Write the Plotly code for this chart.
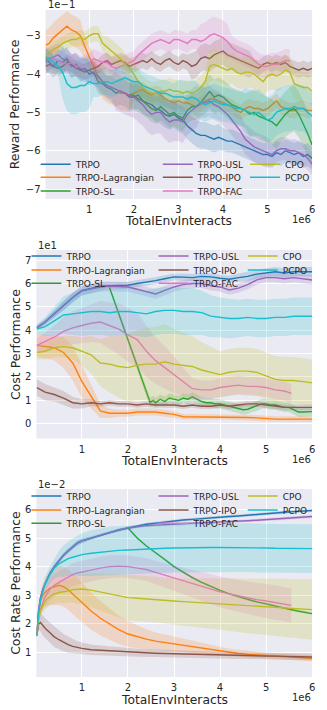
import plotly.graph_objects as go

W, H = 327, 710
NAMES = ["TRPO", "TRPO-Lagrangian", "TRPO-SL", "TRPO-USL", "TRPO-IPO", "TRPO-FAC", "CPO", "PCPO"]
COLORS = ["#1f77b4", "#ff7f0e", "#2ca02c", "#9467bd", "#8c564b", "#e377c2", "#bcbd22", "#17becf"]
X_TICKS = [1, 2, 3, 4, 5, 6]
X_TICK_TEXT = ["1", "2", "3", "4", "5", "6"]

# ---------------- Panel 1: Reward Performance (units of 1e-1) ----------------
X1 = [0.02] + [round(0.1 * i, 1) for i in range(1, 61)]
X1_SL = [round(0.1 * i, 1) for i in range(19, 61)]
X1_FAC = [0.02] + [round(0.1 * i, 1) for i in range(1, 56)]

R_TRPO = [-3.6, -3.7, -3.8, -3.65, -3.7, -3.6, -3.8, -3.75, -3.9, -3.85, -4.0, -3.95, -4.2, -4.25, -4.35, -4.4,
          -4.5, -4.45, -4.5, -4.6, -4.6, -4.55, -4.7, -4.75, -4.8, -4.9, -4.95, -5.05, -5.1, -5.05, -5.15, -5.2,
          -5.35, -5.45, -5.55, -5.6, -5.6, -5.65, -5.7, -5.65, -5.7, -5.75, -5.75, -5.8, -5.85, -5.9, -5.95, -6.0,
          -6.05, -6.1, -6.1, -6.15, -6.05, -6.1, -6.0, -6.05, -6.1, -6.05, -6.15, -6.1, -6.2]
R_TRPO_SD = [0.3] * 15 + [0.35] * 25 + [0.3] * 21
R_LAG = [-3.25, -3.2, -3.05, -2.95, -2.85, -2.75, -2.85, -2.9, -3.0, -3.3, -3.55, -3.8, -4.1, -4.2, -4.3, -4.35,
         -4.4, -4.5, -4.5, -4.55, -4.5, -4.45, -4.4, -4.5, -4.55, -4.5, -4.55, -4.65, -4.7, -4.75, -4.7, -4.75,
         -4.75, -4.8, -4.85, -4.8, -4.7, -4.65, -4.65, -4.7, -4.75, -4.8, -4.85, -4.95, -5.0, -4.9, -4.85, -4.9,
         -4.9, -4.95, -4.9, -4.8, -4.7, -4.85, -4.9, -4.95, -4.95, -4.9, -4.9, -4.95, -4.95]
R_LAG_SD = [0.4] * 9 + [0.3] * 4 + [0.45] * 7 + [0.2] * 41
R_SL = [-4.55, -4.55, -4.65, -4.7, -4.8, -4.9, -4.95, -4.85, -4.95, -5.05, -5.0, -5.1, -5.15, -4.95, -4.85, -4.85,
        -4.75, -4.6, -4.45, -4.6, -4.55, -4.6, -4.7, -4.8, -4.85, -4.9, -4.95, -5.05, -5.0, -5.1, -5.15, -5.2,
        -5.25, -5.35, -5.2, -5.05, -4.95, -4.9, -5.05, -5.3, -5.55, -5.85]
R_SL_SD = [0.35] * 17 + [0.45] * 10 + [0.6] * 15
R_USL = [-3.7, -3.6, -3.55, -3.5, -3.6, -3.65, -3.8, -3.75, -3.85, -3.9, -3.9, -4.0, -4.05, -4.2, -4.3, -4.35,
         -4.4, -4.45, -4.5, -4.55, -4.6, -4.7, -4.8, -4.95, -5.05, -5.0, -5.0, -5.15, -5.25, -5.2, -5.2, -5.25,
         -5.05, -4.95, -4.85, -4.75, -4.75, -4.7, -4.8, -4.85, -4.95, -5.05, -5.2, -5.35, -5.5, -5.7, -5.8, -5.9,
         -5.95, -6.0, -6.05, -6.1, -6.0, -5.95, -5.95, -6.0, -6.0, -6.05, -6.1, -6.2, -6.35]
R_USL_SD = [0.3] * 16 + [0.55] * 19 + [0.4] * 16 + [0.3] * 10
R_IPO = [-3.8, -3.75, -3.8, -3.85, -3.8, -3.7, -3.75, -3.85, -3.9, -3.95, -3.9, -3.85, -3.8, -3.7, -3.65, -3.75,
         -3.7, -3.65, -3.7, -3.8, -3.75, -3.7, -3.65, -3.7, -3.6, -3.7, -3.75, -3.65, -3.6, -3.7, -3.75, -3.65,
         -3.7, -3.8, -3.75, -3.6, -3.55, -3.6, -3.5, -3.45, -3.4, -3.5, -3.55, -3.6, -3.65, -3.7, -3.75, -3.8,
         -3.85, -3.75, -3.7, -3.75, -3.7, -3.75, -3.7, -3.8, -3.85, -3.9, -3.85, -3.9, -3.85]
R_IPO_SD = [0.2] * 33 + [0.35] * 14 + [0.2] * 14
R_FAC = [-3.55, -3.6, -3.6, -3.65, -3.7, -3.75, -3.7, -3.8, -3.8, -3.75, -3.7, -3.6, -3.65, -3.7, -3.7, -3.8,
         -3.85, -3.8, -3.75, -3.7, -3.65, -3.5, -3.4, -3.3, -3.2, -3.15, -3.1, -3.15, -3.2, -3.1, -3.1, -3.15,
         -3.2, -3.1, -3.1, -3.15, -3.1, -3.0, -2.95, -3.0, -3.05, -3.15, -3.3, -3.4, -3.45, -3.5, -3.55, -3.65,
         -3.75, -3.8, -3.8, -3.75, -3.75, -3.7, -3.65, -3.65]
R_FAC_SD = [0.25] * 35 + [0.45] * 7 + [0.3] * 14
R_CPO = [-3.5, -3.45, -3.35, -3.3, -3.2, -3.15, -3.1, -3.1, -3.05, -3.1, -3.0, -2.95, -2.95, -3.2, -3.3, -3.4,
         -3.5, -3.6, -3.75, -3.85, -4.0, -4.2, -4.35, -4.45, -4.5, -4.5, -4.45, -4.45, -4.4, -4.45, -4.45, -4.5,
         -4.45, -4.5, -4.45, -4.35, -4.2, -3.8, -3.75, -3.8, -3.85, -3.9, -3.85, -3.95, -4.0, -3.95, -3.95, -4.0,
         -4.1, -4.2, -4.05, -4.0, -4.05, -4.0, -3.9, -3.95, -4.25, -4.3, -4.35, -4.35, -4.45]
R_CPO_SD = [0.2] * 14 + [0.3] * 23 + [0.4] * 24
R_PCPO = [-3.55, -3.6, -3.7, -3.8, -3.95, -4.25, -4.35, -4.35, -4.3, -4.3, -4.2, -4.25, -4.25, -4.2, -4.2, -4.25,
          -4.2, -4.15, -4.1, -4.15, -4.2, -4.2, -4.3, -4.35, -4.4, -4.45, -4.5, -4.5, -4.55, -4.6, -4.6, -4.6,
          -4.65, -4.6, -4.65, -4.75, -4.8, -4.75, -4.7, -4.75, -4.8, -4.8, -4.85, -4.9, -4.9, -4.95, -5.0, -5.05,
          -5.0, -5.1, -5.2, -5.15, -5.0, -4.95, -4.9, -4.9, -4.85, -4.9, -4.9, -5.0, -5.1]
R_PCPO_SD = [0.2] * 4 + [0.7] * 7 + [0.35] * 19 + [0.45] * 15 + [0.6] * 16

# ---------------- Panel 2: Cost Performance (units of 1e1) ----------------
X2 = [0.02] + [round(0.2 * i, 1) for i in range(1, 31)]
X2_SL = [1.6, 2.48, 2.55, 2.6] + [round(0.1 * i, 1) for i in range(27, 61)]
X2_FAC = [0.02] + [round(0.2 * i, 1) for i in range(1, 28)] + [5.55]

C_TRPO = [4.1, 4.35, 4.7, 5.05, 5.4, 5.7, 5.8, 5.88, 5.9, 5.9, 5.92, 6.0, 6.05, 6.12, 6.2, 6.28, 6.27, 6.25, 6.3,
          6.28, 6.22, 6.18, 6.25, 6.3, 6.4, 6.45, 6.5, 6.45, 6.5, 6.5, 6.5]
C_TRPO_SD = [0.1, 0.12, 0.15, 0.2, 0.2, 0.2, 0.2, 0.18, 0.15, 0.15, 0.15, 0.15, 0.15, 0.15, 0.15, 0.15, 0.15,
             0.15, 0.15, 0.15, 0.15, 0.15, 0.18, 0.2, 0.2, 0.2, 0.2, 0.2, 0.2, 0.2, 0.2]
C_LAG = [3.35, 3.3, 3.25, 3.05, 2.6, 1.8, 1.15, 0.55, 0.45, 0.45, 0.45, 0.5, 0.5, 0.5, 0.45, 0.4, 0.3, 0.3, 0.3,
         0.3, 0.3, 0.28, 0.28, 0.27, 0.25, 0.22, 0.2, 0.2, 0.2, 0.2, 0.2]
C_LAG_SD = [0.5, 0.5, 0.55, 0.65, 0.75, 0.7, 0.5, 0.3, 0.2, 0.15, 0.15, 0.15, 0.15, 0.15, 0.15, 0.15, 0.12,
            0.12, 0.12, 0.12, 0.12, 0.12, 0.12, 0.12, 0.12, 0.12, 0.12, 0.12, 0.12, 0.12, 0.12]
C_SL = [5.82, 0.92, 1.0, 0.9, 1.05, 0.95, 1.1, 1.05, 1.0, 1.1, 1.05, 1.15, 1.05, 0.95, 0.9, 0.9, 0.85, 0.85, 0.8,
        0.75, 0.7, 0.65, 0.6, 0.62, 0.7, 0.75, 0.85, 0.85, 0.8, 0.8, 0.75, 0.7, 0.7, 0.6, 0.5, 0.5, 0.5, 0.52]
C_SL_SD = [0.1] + [0.2] * 37
C_USL = [4.1, 4.35, 4.7, 5.05, 5.4, 5.68, 5.78, 5.85, 5.88, 5.85, 5.85, 5.75, 5.65, 5.55, 5.7, 5.85, 5.95, 6.0,
         6.0, 5.9, 5.85, 5.72, 5.8, 5.95, 6.15, 6.25, 6.25, 6.2, 6.25, 6.2, 6.15]
C_USL_SD = [0.1, 0.12, 0.15, 0.2, 0.2, 0.2, 0.2, 0.2, 0.2, 0.2, 0.2, 0.2, 0.2, 0.2, 0.2, 0.2, 0.2, 0.2, 0.2,
            0.2, 0.2, 0.2, 0.2, 0.2, 0.2, 0.2, 0.2, 0.2, 0.2, 0.2, 0.2]
C_IPO = [1.55, 1.35, 1.25, 1.1, 0.9, 0.85, 0.9, 0.85, 0.9, 0.85, 0.85, 0.8, 0.85, 0.8, 0.8, 0.8, 0.75, 0.8, 0.75,
         0.75, 0.8, 0.75, 0.8, 0.85, 0.85, 0.8, 0.75, 0.7, 0.7, 0.7, 0.7]
C_IPO_SD = [0.35, 0.35, 0.3, 0.3, 0.25, 0.2, 0.15, 0.12, 0.12, 0.12, 0.12, 0.12, 0.12, 0.12, 0.12, 0.12, 0.12,
            0.12, 0.12, 0.12, 0.12, 0.12, 0.12, 0.12, 0.12, 0.12, 0.12, 0.12, 0.12, 0.12, 0.12]
C_FAC = [3.35, 3.5, 3.7, 3.95, 4.1, 4.2, 4.3, 4.35, 4.2, 4.05, 3.8, 3.6, 3.1, 2.7, 2.4, 2.1, 1.8, 1.5, 1.45, 1.45,
         1.55, 1.6, 1.65, 1.6, 1.6, 1.55, 1.45, 1.4, 1.3]
C_FAC_SD = [0.3, 0.4, 0.5, 0.6, 0.7, 0.75, 0.8, 0.9, 1.0, 1.1, 1.15, 1.15, 1.1, 1.0, 0.9, 0.8, 0.6, 0.45, 0.4,
            0.4, 0.4, 0.4, 0.4, 0.4, 0.4, 0.4, 0.4, 0.4, 0.4]
C_CPO = [3.05, 3.1, 3.25, 3.3, 3.25, 3.1, 2.95, 2.6, 2.55, 2.45, 2.4, 2.5, 2.55, 2.55, 2.65, 2.55, 2.5, 2.45, 2.3,
         2.2, 2.1, 2.2, 2.25, 2.25, 2.2, 2.05, 1.9, 1.85, 1.85, 1.8, 1.75]
C_CPO_SD = [0.3, 0.35, 0.4, 0.45, 0.5, 0.6, 0.8, 1.0, 1.2, 1.35, 1.45, 1.5, 1.55, 1.6, 1.6, 1.5, 1.4, 1.3, 1.2,
            1.1, 1.0, 1.0, 1.0, 1.0, 1.0, 1.0, 1.0, 1.0, 1.0, 1.0, 1.0]
C_PCPO = [4.05, 4.15, 4.4, 4.65, 4.7, 4.75, 4.8, 4.8, 4.75, 4.8, 4.8, 4.75, 4.7, 4.8, 4.85, 4.85, 4.8, 4.8, 4.75,
          4.6, 4.55, 4.5, 4.5, 4.55, 4.5, 4.5, 4.55, 4.55, 4.6, 4.6, 4.6]
C_PCPO_SD = [0.2, 0.4, 0.6, 0.8, 0.9, 1.0, 1.0, 1.0, 1.0, 1.0, 1.0, 1.0, 1.0, 1.0, 1.0, 1.0, 1.0, 1.0, 0.95,
             0.9, 0.85, 0.85, 0.8, 0.8, 0.8, 0.8, 0.8, 0.8, 0.8, 0.8, 0.8]

# ---------------- Panel 3: Cost Rate Performance (units of 1e-2) ----------------
X3 = [0.02, 0.06, 0.1, 0.15, 0.2, 0.3, 0.4, 0.5, 0.6, 0.7, 0.8, 0.9, 1.0] + [round(0.2 * i, 1) for i in range(6, 31)]
X3_SL = [round(0.2 * i, 1) for i in range(10, 31)]
X3_FAC = [0.02, 0.06, 0.1, 0.15, 0.2, 0.3, 0.4, 0.5, 0.6, 0.7, 0.8, 0.9, 1.0] + \
         [round(0.2 * i, 1) for i in range(6, 28)] + [5.55]

Q_TRPO = [1.6, 2.5, 2.9, 3.2, 3.4, 3.75, 4.0, 4.2, 4.4, 4.55, 4.7, 4.82, 4.9, 5.0, 5.1, 5.2, 5.28, 5.35, 5.42,
          5.48, 5.52, 5.56, 5.6, 5.63, 5.65, 5.68, 5.7, 5.72, 5.75, 5.77, 5.8, 5.82, 5.85, 5.87, 5.9, 5.92, 5.94,
          5.96]
Q_TRPO_SD = [0.05] * 5 + [0.08] * 8 + [0.05] * 25
Q_LAG = [1.6, 2.4, 2.8, 3.0, 3.1, 3.25, 3.3, 3.35, 3.3, 3.2, 3.05, 2.9, 2.75, 2.45, 2.2, 2.0, 1.8, 1.65, 1.55,
         1.47, 1.4, 1.35, 1.3, 1.25, 1.2, 1.15, 1.1, 1.05, 1.0, 0.97, 0.94, 0.92, 0.9, 0.88, 0.86, 0.84, 0.82, 0.8]
Q_LAG_SD = [0.1, 0.2, 0.3, 0.4, 0.5, 0.6, 0.65, 0.7, 0.7, 0.7, 0.7, 0.7, 0.7, 0.65, 0.6, 0.55, 0.5, 0.45, 0.4,
            0.35, 0.3, 0.28, 0.25, 0.22, 0.2, 0.18, 0.16, 0.15, 0.14, 0.13, 0.12, 0.12, 0.1, 0.1, 0.1, 0.1, 0.1, 0.1]
Q_SL = [5.35, 5.0, 4.72, 4.5, 4.25, 4.0, 3.8, 3.62, 3.45, 3.3, 3.17, 3.05, 2.95, 2.85, 2.77, 2.7, 2.62, 2.55,
        2.48, 2.42, 2.36]
Q_SL_SD = [0.04] * 21
Q_USL = [1.6, 2.5, 2.9, 3.2, 3.4, 3.75, 4.0, 4.2, 4.4, 4.55, 4.7, 4.82, 4.9, 5.0, 5.1, 5.2, 5.28, 5.35, 5.4, 5.43,
         5.45, 5.46, 5.48, 5.5, 5.52, 5.53, 5.54, 5.55, 5.57, 5.58, 5.6, 5.62, 5.64, 5.66, 5.68, 5.7, 5.72, 5.75]
Q_USL_SD = [0.05] * 5 + [0.08] * 8 + [0.05] * 25
Q_IPO = [1.6, 2.0, 2.05, 1.95, 1.85, 1.7, 1.55, 1.45, 1.35, 1.28, 1.22, 1.18, 1.15, 1.1, 1.08, 1.06, 1.04, 1.02,
         1.0, 0.99, 0.98, 0.97, 0.96, 0.95, 0.94, 0.93, 0.92, 0.92, 0.91, 0.9, 0.9, 0.89, 0.88, 0.88, 0.87, 0.86,
         0.86, 0.85]
Q_IPO_SD = [0.1, 0.2, 0.3, 0.35, 0.35, 0.35, 0.35, 0.33, 0.3, 0.28, 0.25, 0.22, 0.2, 0.18, 0.17, 0.16, 0.15,
            0.15, 0.14, 0.14, 0.13, 0.13, 0.13, 0.12, 0.12, 0.12, 0.12, 0.12, 0.12, 0.12, 0.12, 0.12, 0.12, 0.12,
            0.12, 0.12, 0.12, 0.12]
Q_FAC = [1.6, 2.2, 2.5, 2.75, 2.95, 3.2, 3.35, 3.45, 3.55, 3.65, 3.72, 3.78, 3.82, 3.88, 3.95, 4.0, 4.02, 4.0,
         3.95, 3.9, 3.8, 3.7, 3.6, 3.5, 3.4, 3.3, 3.2, 3.12, 3.05, 2.98, 2.92, 2.85, 2.8, 2.75, 2.7, 2.65]
Q_FAC_SD = [0.1, 0.2, 0.25, 0.3, 0.35, 0.4, 0.4, 0.4, 0.4, 0.4, 0.4, 0.4, 0.4, 0.4, 0.4, 0.4, 0.4, 0.4, 0.4,
            0.4, 0.4, 0.42, 0.44, 0.46, 0.48, 0.5, 0.52, 0.54, 0.55, 0.56, 0.57, 0.58, 0.6, 0.6, 0.6, 0.6]
Q_CPO = [1.6, 2.2, 2.45, 2.65, 2.8, 2.95, 3.05, 3.1, 3.12, 3.15, 3.2, 3.2, 3.22, 3.18, 3.12, 3.05, 2.98, 2.92,
         2.9, 2.87, 2.85, 2.82, 2.8, 2.78, 2.76, 2.74, 2.72, 2.7, 2.68, 2.66, 2.64, 2.62, 2.6, 2.58, 2.56, 2.54,
         2.52, 2.5]
Q_CPO_SD = [0.1, 0.15, 0.2, 0.25, 0.3, 0.3, 0.35, 0.35, 0.4, 0.4, 0.45, 0.5, 0.55, 0.6, 0.65, 0.7, 0.75, 0.8,
            0.8, 0.8, 0.8, 0.8, 0.8, 0.82, 0.84, 0.86, 0.88, 0.9, 0.92, 0.94, 0.96, 0.98, 1.0, 1.0, 1.02, 1.03,
            1.04, 1.05]
Q_PCPO = [1.6, 2.4, 2.85, 3.15, 3.4, 3.7, 3.95, 4.1, 4.2, 4.28, 4.33, 4.38, 4.42, 4.47, 4.5, 4.55, 4.57, 4.58,
          4.6, 4.62, 4.63, 4.64, 4.65, 4.66, 4.66, 4.67, 4.67, 4.67, 4.67, 4.66, 4.66, 4.65, 4.65, 4.64, 4.64, 4.63,
          4.63, 4.63]
Q_PCPO_SD = [0.05, 0.1, 0.15, 0.2, 0.25, 0.3, 0.35, 0.45, 0.55, 0.6, 0.65, 0.7, 0.75, 0.8, 0.82, 0.85, 0.85,
             0.85, 0.85, 0.85, 0.85, 0.85, 0.85, 0.85, 0.85, 0.85, 0.85, 0.85, 0.85, 0.85, 0.85, 0.85, 0.85, 0.85,
             0.85, 0.85, 0.85, 0.85]

PANELS = [
    dict(series=[(X1, R_TRPO, R_TRPO_SD), (X1, R_LAG, R_LAG_SD), (X1_SL, R_SL, R_SL_SD), (X1, R_USL, R_USL_SD),
                 (X1, R_IPO, R_IPO_SD), (X1_FAC, R_FAC, R_FAC_SD), (X1, R_CPO, R_CPO_SD),
                 (X1, R_PCPO, R_PCPO_SD)],
         ylabel="Reward Performance", yticks=[-7, -6, -5, -4, -3],
         ytext=["\u22127", "\u22126", "\u22125", "\u22124", "\u22123"],
         yrange=[-7.26, -2.33], xrange=[0.02, 6.0], exp="1e\u22121",
         box=(46, 315, 10, 199), rows=(164.3, 177.3, 191.0), cols=(76, 199.3, 287.3)),
    dict(series=[(X2, C_TRPO, C_TRPO_SD), (X2, C_LAG, C_LAG_SD), (X2_SL, C_SL, C_SL_SD), (X2, C_USL, C_USL_SD),
                 (X2, C_IPO, C_IPO_SD), (X2_FAC, C_FAC, C_FAC_SD), (X2, C_CPO, C_CPO_SD),
                 (X2, C_PCPO, C_PCPO_SD)],
         ylabel="Cost Performance", yticks=[0, 1, 2, 3, 4, 5, 6, 7], ytext=["0", "1", "2", "3", "4", "5", "6", "7"],
         yrange=[-0.63, 7.43], xrange=[0.01, 6.0], exp="1e1",
         box=(36.7, 315, 250, 438.5), rows=(256.0, 270.0, 283.3), cols=(66.7, 195, 285)),
    dict(series=[(X3, Q_TRPO, Q_TRPO_SD), (X3, Q_LAG, Q_LAG_SD), (X3_SL, Q_SL, Q_SL_SD), (X3, Q_USL, Q_USL_SD),
                 (X3, Q_IPO, Q_IPO_SD), (X3_FAC, Q_FAC, Q_FAC_SD), (X3, Q_CPO, Q_CPO_SD),
                 (X3, Q_PCPO, Q_PCPO_SD)],
         ylabel="Cost Rate Performance", yticks=[1, 2, 3, 4, 5, 6], ytext=["1", "2", "3", "4", "5", "6"],
         yrange=[0.15, 6.71], xrange=[0.01, 6.0], exp="1e\u22122",
         box=(36.7, 315, 489, 677), rows=(496.0, 510.0, 523.3), cols=(66.7, 195, 285)),
]
# legend grid slot (column, row) for each algorithm, matplotlib ncol=3 ordering
SLOTS = [(0, 0), (0, 1), (0, 2), (1, 0), (1, 1), (1, 2), (2, 0), (2, 1)]

FONT = "DejaVu Sans"
TXT = "#262626"


def px(x):
    return x / W


def py(y):
    return 1 - y / H


def rgba(hexc, a):
    h = hexc.lstrip("#")
    return "rgba(%d,%d,%d,%s)" % (int(h[0:2], 16), int(h[2:4], 16), int(h[4:6], 16), a)


fig = go.Figure()
layout = dict(width=W, height=H, margin=dict(l=0, r=0, t=0, b=0), paper_bgcolor="white",
              plot_bgcolor="#EAEAF2", font=dict(family=FONT, color=TXT), showlegend=True,
              hovermode=False)
annotations = []
leg_idx = 0
for p, P in enumerate(PANELS):
    sfx = "" if p == 0 else str(p + 1)
    xa, ya = "x" + sfx, "y" + sfx
    l, r, t, b = P["box"]
    layout["xaxis" + sfx] = dict(domain=[px(l), px(r)], range=P["xrange"], anchor=ya, tickvals=X_TICKS,
                                 ticktext=X_TICK_TEXT, showgrid=True, gridcolor="white", gridwidth=1,
                                 zeroline=False, showline=False, ticks="", ticklabelstandoff=3,
                                 tickfont=dict(size=10, color=TXT, family=FONT))
    layout["yaxis" + sfx] = dict(domain=[py(b), py(t)], range=P["yrange"], anchor=xa, tickvals=P["yticks"],
                                 ticktext=P["ytext"], showgrid=True, gridcolor="white", gridwidth=1,
                                 zeroline=False, showline=False, ticks="", ticklabelstandoff=4,
                                 tickfont=dict(size=10, color=TXT, family=FONT))
    for k, (xs, ys, sd) in enumerate(P["series"]):
        col = COLORS[k]
        up = [a + s for a, s in zip(ys, sd)]
        lo = [a - s for a, s in zip(ys, sd)]
        fig.add_trace(go.Scatter(x=list(xs) + list(xs)[::-1], y=up + lo[::-1], xaxis=xa, yaxis=ya,
                                 fill="toself", fillcolor=rgba(col, 0.2), line=dict(width=0),
                                 mode="lines", showlegend=False, hoverinfo="skip"))
        leg_idx += 1
        lname = "legend" if leg_idx == 1 else "legend%d" % leg_idx
        fig.add_trace(go.Scatter(x=xs, y=ys, xaxis=xa, yaxis=ya, mode="lines", name=NAMES[k],
                                 line=dict(color=col, width=1.4), legend=lname, showlegend=True))
        c, rr = SLOTS[k]
        layout[lname] = dict(x=px(P["cols"][c] - 40), y=py(P["rows"][rr]), xanchor="left", yanchor="middle",
                             bgcolor="rgba(0,0,0,0)", borderwidth=0, itemwidth=30,
                             font=dict(size=9, color=TXT, family=FONT))
    # axis titles and offset labels
    annotations.append(dict(text="TotalEnvInteracts", x=px((l + r) / 2), y=py(b + 22.5),
                            xref="paper", yref="paper", showarrow=False, xanchor="center", yanchor="middle",
                            font=dict(size=12.3, color=TXT, family=FONT)))
    annotations.append(dict(text=P["ylabel"], x=px(15), y=py((t + b) / 2), xref="paper", yref="paper",
                            showarrow=False, textangle=-90, xanchor="center", yanchor="middle",
                            font=dict(size=12.5, color=TXT, family=FONT)))
    annotations.append(dict(text="1e6", x=px(r + 1), y=py(b + 20.5), xref="paper", yref="paper", showarrow=False,
                            xanchor="right", yanchor="middle", font=dict(size=10, color=TXT, family=FONT)))
    annotations.append(dict(text=P["exp"], x=px(l), y=py(t - 5), xref="paper", yref="paper", showarrow=False,
                            xanchor="left", yanchor="middle", font=dict(size=10, color=TXT, family=FONT)))

layout["annotations"] = annotations
fig.update_layout(**layout)
fig.write_html("out.html", config={"displayModeBar": False},
               post_script="document.body.style.margin='0';document.body.style.padding='0';")
